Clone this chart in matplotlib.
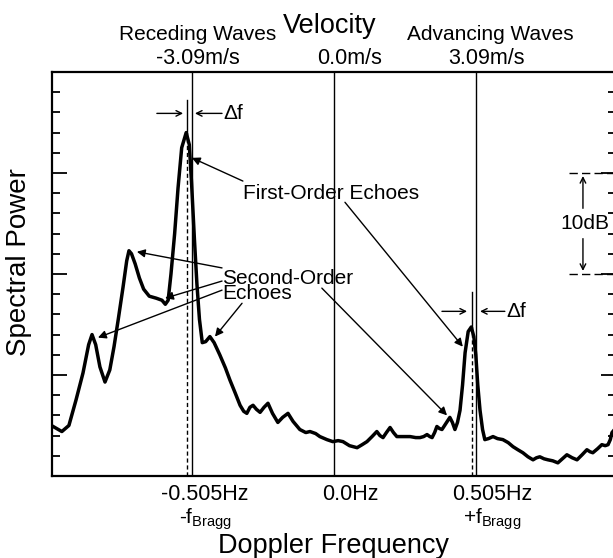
import numpy as np
import matplotlib.pyplot as plt
import matplotlib.transforms as mtransforms
from matplotlib.ticker import MultipleLocator

plt.rcParams['font.family'] = ['Liberation Sans', 'DejaVu Sans']

# Doppler spectrum (Hz, dB above floor)
freq = [-0.996, -0.965, -0.940, -0.915, -0.890, -0.870, -0.858, -0.845, -0.830, -0.812,
        -0.795, -0.780, -0.765, -0.748, -0.735, -0.727, -0.718, -0.705, -0.690, -0.675,
        -0.655, -0.630, -0.610, -0.598, -0.588, -0.578, -0.565, -0.553, -0.540, -0.524,
        -0.513, -0.505, -0.495, -0.486, -0.477, -0.467, -0.455, -0.440, -0.425, -0.405,
        -0.385, -0.369, -0.350, -0.333, -0.320, -0.309, -0.298, -0.287, -0.275, -0.262,
        -0.248, -0.234, -0.218, -0.199, -0.182, -0.163, -0.145, -0.121, -0.100, -0.085,
        -0.065, -0.050, -0.025, -0.004, 0.015, 0.032, 0.055, 0.082, 0.100, 0.117,
        0.135, 0.152, 0.163, 0.174, 0.186, 0.199, 0.211, 0.223, 0.245, 0.270,
        0.290, 0.305, 0.318, 0.330, 0.340, 0.348, 0.357, 0.365, 0.374, 0.383,
        0.397, 0.411, 0.420, 0.429, 0.438, 0.447, 0.456, 0.465, 0.476, 0.487,
        0.496, 0.503, 0.510, 0.518, 0.527, 0.535, 0.548, 0.564, 0.580, 0.599,
        0.618, 0.635, 0.652, 0.670, 0.688, 0.706, 0.718, 0.730, 0.745, 0.759,
        0.776, 0.794, 0.810, 0.826, 0.845, 0.862, 0.880, 0.897, 0.908, 0.918,
        0.935, 0.950, 0.962, 0.972, 0.980, 0.986, 0.995]
power = [4.9, 4.4, 5.0, 7.5, 10.2, 13.0, 14.0, 13.0, 10.8, 9.3,
         10.5, 12.8, 15.5, 18.7, 21.3, 22.3, 22.0, 21.0, 19.6, 18.5,
         17.8, 17.6, 17.4, 17.0, 17.4, 20.0, 24.0, 28.5, 32.5, 34.0,
         32.8, 29.0, 23.5, 19.0, 15.5, 13.2, 13.3, 13.8, 13.2, 12.0,
         10.7, 9.5, 8.2, 7.0, 6.4, 6.2, 6.8, 7.0, 6.6, 6.3,
         6.8, 7.2, 6.2, 5.3, 5.8, 6.2, 5.4, 4.6, 4.3, 4.4,
         4.2, 3.9, 3.6, 3.4, 3.5, 3.4, 3.0, 2.8, 3.1, 3.4,
         3.9, 4.4, 4.0, 3.8, 4.3, 4.8, 4.3, 3.9, 3.9, 3.9,
         3.8, 3.8, 3.9, 4.1, 3.9, 3.8, 4.3, 4.9, 4.7, 4.6,
         5.2, 5.8, 5.3, 4.6, 5.3, 6.5, 9.0, 12.2, 14.3, 14.75,
         13.8, 12.0, 9.0, 6.5, 4.6, 3.6, 3.7, 3.9, 3.7, 3.6,
         3.3, 2.9, 2.6, 2.3, 1.9, 1.6, 1.8, 1.9, 1.7, 1.6,
         1.5, 1.3, 1.7, 2.1, 1.8, 1.6, 2.1, 2.6, 2.4, 2.3,
         2.7, 3.1, 3.0, 3.1, 3.6, 4.3, 4.6]

bragg = [-0.505, 0.0, 0.505]
freq_labels = ['-0.505Hz', '0.0Hz', '0.505Hz']
vel_labels = ['-3.09m/s', '0.0m/s', '3.09m/s']
peak_f = [-0.522, 0.489]
peak_db = [34.0, 14.75]
peak_top = [37.2, 18.2]

fig = plt.figure(figsize=(6.13, 5.58), dpi=100)
ax = fig.add_axes([0.0848, 0.147, 0.920, 0.724])

ax.plot(freq, power, color='black', lw=2.5, solid_joinstyle='round')

# solid reference lines at +-fBragg and zero
for f in bragg:
    ax.axvline(f, color='black', lw=1.0)
# shifted peaks: dashed below, thin solid above
for f, p, t in zip(peak_f, peak_db, peak_top):
    ax.plot([f, f], [0, p], color='black', lw=1.0, ls=(0, (3, 2)))
    ax.plot([f, f], [p, t], color='black', lw=1.0)

ax.set_xlim(-1, 1)
ax.set_ylim(0, 40)
ax.yaxis.set_major_locator(MultipleLocator(10))
ax.yaxis.set_minor_locator(MultipleLocator(2))
ax.tick_params(axis='y', which='both', direction='in', left=True, right=True,
               labelleft=False)
ax.tick_params(axis='y', which='major', length=11, width=1.3)
ax.tick_params(axis='y', which='minor', length=6, width=1.3)
for s in ax.spines.values():
    s.set_linewidth(1.6)

ax.set_xticks(bragg)
ax.set_xticklabels(freq_labels, fontsize=15.5)
ax.tick_params(axis='x', length=0, pad=6)
x_off = [0.13, 0.16, 0.16]
for lab, d in zip(ax.get_xticklabels(), x_off):
    lab.set_transform(lab.get_transform() +
                      mtransforms.ScaledTranslation(d, 0, fig.dpi_scale_trans))

xt = ax.get_xaxis_transform()
ax.text(-0.454, -0.075, '-f$_{\\mathregular{Bragg}}$', transform=xt, fontsize=15,
        ha='center', va='top')
ax.text(0.561, -0.075, '+f$_{\\mathregular{Bragg}}$', transform=xt, fontsize=15,
        ha='center', va='top')

ax.set_xlabel('Doppler Frequency', fontsize=19.5)
ax.xaxis.set_label_coords(0.5, -0.140)
ax.set_ylabel('Spectral Power', fontsize=20)
ax.yaxis.set_label_coords(-0.035, 0.53)

# top axis: velocity
ax2 = ax.twiny()
ax2.set_xlim(ax.get_xlim())
ax2.set_xticks(bragg)
ax2.set_xticklabels(vel_labels, fontsize=15.5)
ax2.tick_params(axis='x', length=0, pad=2)
v_off = [0.06, 0.16, 0.10]
for lab, d in zip(ax2.get_xticklabels(), v_off):
    lab.set_transform(lab.get_transform() +
                      mtransforms.ScaledTranslation(d, 0, fig.dpi_scale_trans))
for s in ax2.spines.values():
    s.set_visible(False)

ax.text(-0.482, 1.079, 'Receding Waves', transform=xt, fontsize=15,
        ha='center', va='baseline')
ax.text(0.553, 1.079, 'Advancing Waves', transform=xt, fontsize=15,
        ha='center', va='baseline')
ax.text(-0.014, 1.096, 'Velocity', transform=xt, fontsize=19.5,
        ha='center', va='baseline')

# delta f markers
df_arrow = dict(arrowstyle='->', lw=1.0, color='black', shrinkA=0, shrinkB=0)
ax.annotate('', xy=(-0.535, 35.9), xytext=(-0.628, 35.9), arrowprops=df_arrow)
ax.annotate('', xy=(-0.493, 35.9), xytext=(-0.397, 35.9), arrowprops=df_arrow)
ax.text(-0.392, 35.9, 'Δf', fontsize=15, ha='left', va='center')
ax.annotate('', xy=(0.472, 16.3), xytext=(0.383, 16.3), arrowprops=df_arrow)
ax.annotate('', xy=(0.518, 16.3), xytext=(0.606, 16.3), arrowprops=df_arrow)
ax.text(0.612, 16.3, 'Δf', fontsize=15, ha='left', va='center')

# 10 dB scale bar
for lvl in [30, 20]:
    ax.plot([0.833, 1.0], [lvl, lvl], color='black', lw=1.0, ls=(0, (6, 3)))
ax.annotate('', xy=(0.883, 29.7), xytext=(0.883, 26.5), arrowprops=df_arrow)
ax.annotate('', xy=(0.883, 20.3), xytext=(0.883, 23.5), arrowprops=df_arrow)
ax.text(0.89, 25.0, '10dB', fontsize=15, ha='center', va='center')

# echo labels
ptr = dict(arrowstyle='-|>', lw=1.0, color='black', shrinkA=0, shrinkB=0,
           mutation_scale=12)
ax.text(-0.323, 28.0, 'First-Order Echoes', fontsize=15, ha='left', va='center')
ax.annotate('', xy=(-0.504, 31.5), xytext=(-0.323, 29.2), arrowprops=ptr)
ax.annotate('', xy=(0.457, 12.8), xytext=(0.039, 27.1), arrowprops=ptr)

ax.text(-0.397, 18.8, 'Second-Order\nEchoes', fontsize=15, ha='left', va='center',
        linespacing=0.78)
ax.annotate('', xy=(-0.699, 22.2), xytext=(-0.397, 20.6), arrowprops=ptr)
ax.annotate('', xy=(-0.599, 17.6), xytext=(-0.397, 19.3), arrowprops=ptr)
ax.annotate('', xy=(-0.837, 13.7), xytext=(-0.397, 18.4), arrowprops=ptr)
ax.annotate('', xy=(-0.422, 13.8), xytext=(-0.326, 17.1), arrowprops=ptr)
ax.annotate('', xy=(0.401, 6.0), xytext=(-0.043, 18.6), arrowprops=ptr)

fig.savefig('out.png', dpi=100)
